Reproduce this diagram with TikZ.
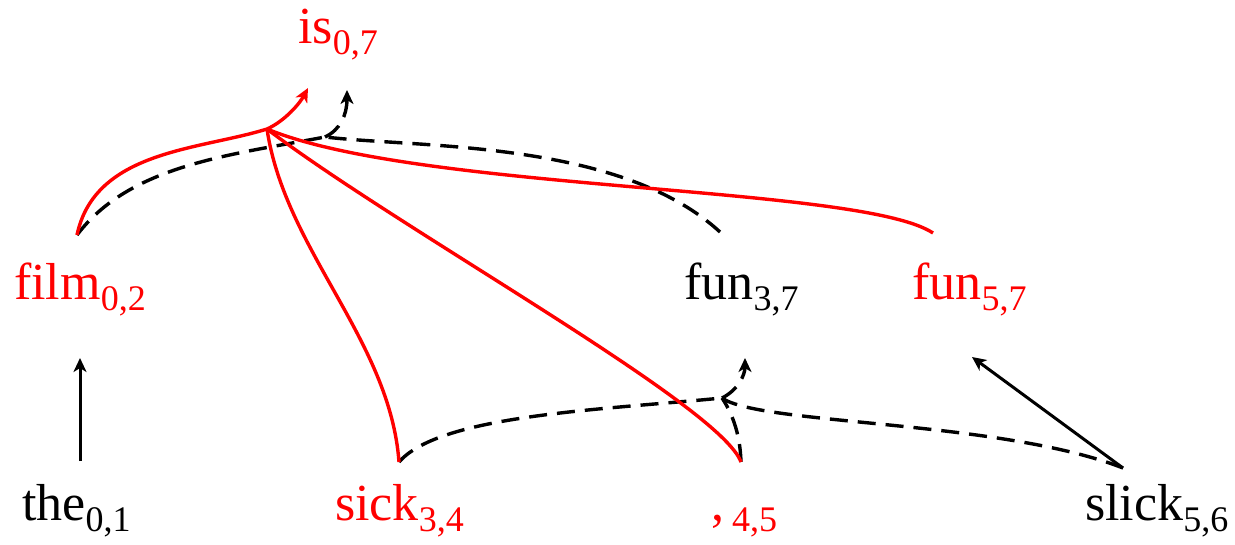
\documentclass[tikz,border=0pt]{standalone}
\usepackage{fontspec}
\setmainfont{Liberation Serif}
\usetikzlibrary{arrows.meta}
\newcommand{\subx}[1]{\raisebox{-0.22em}{\fontsize{36}{36}\selectfont #1}}
\begin{document}
\begin{tikzpicture}[x=1pt,y=-1pt,
  lbl/.style={anchor=base west, inner sep=0pt, font=\fontsize{52}{60}\selectfont},
  hl/.style={text=red},
  redln/.style={draw=red, line width=3.4pt},
  dashln/.style={draw=black, line width=3.4pt, dash pattern=on 18pt off 10pt},
  solidln/.style={draw=black, line width=3pt},
  tip/.style={-{Stealth[length=14pt,width=13pt,inset=4pt]}}
]
\useasboundingbox (0,0) rectangle (1235,544);
% nodes
\node[lbl,hl] (is) at (298,43) {is\subx{0,7}};
\node[lbl,hl] (film) at (14,299) {film\subx{0,2}};
\node[lbl] (fun37) at (684,299) {fun\subx{3,7}};
\node[lbl,hl] (fun57) at (912,299) {fun\subx{5,7}};
\node[lbl] (the) at (22,520) {the\subx{0,1}};
\node[lbl,hl] (sick) at (335,520) {sick\subx{3,4}};
\node[lbl,hl] (comma) at (711,520) {,\kern8pt\subx{4,5}};
\node[lbl] (slick) at (1085,520) {slick\subx{5,6}};
% connector ends
\coordinate (isR) at (308,88);
\coordinate (isB) at (347,90);
\coordinate (hubR) at (267,129);
\coordinate (hubB) at (325,137);
\coordinate (filmT) at (77,235);
\coordinate (filmB) at (80,358);
\coordinate (theT) at (80,461);
\coordinate (sickT) at (399,462);
\coordinate (commaT) at (741,462);
\coordinate (fun37T) at (720,232);
\coordinate (fun37B) at (745,358);
\coordinate (hubC) at (722,398);
\coordinate (fun57T) at (933,233);
\coordinate (fun57B) at (972,357);
\coordinate (slickT) at (1123,468);
% black dashed
\draw[dashln] (filmT) .. controls (130,165) and (230,155) .. (hubB);
\draw[dashln] (fun37T) .. controls (620,140) and (420,148) .. (hubB);
\draw[dashln,tip] (hubB) .. controls (340,130) and (347,115) .. (isB);
\draw[dashln] (sickT) .. controls (440,415) and (600,410) .. (hubC);
\draw[dashln] (commaT) .. controls (740,430) and (730,410) .. (hubC);
\draw[dashln] (slickT) .. controls (1000,420) and (760,425) .. (hubC);
\draw[dashln,tip] (hubC) .. controls (738,390) and (745,375) .. (fun37B);
% black solid
\draw[solidln,tip] (theT) -- (filmB);
\draw[solidln,tip] (slickT) -- (fun57B);
% red
\draw[redln] (filmT) .. controls (95,150) and (200,150) .. (hubR);
\draw[redln,tip] (hubR) .. controls (285,121) and (300,103) .. (isR);
\draw[redln] (sickT) .. controls (390,340) and (285,250) .. (hubR);
\draw[redln] (commaT) .. controls (720,405) and (400,230) .. (hubR);
\draw[redln] (fun57T) .. controls (860,185) and (420,192) .. (hubR);
\end{tikzpicture}
\end{document}
